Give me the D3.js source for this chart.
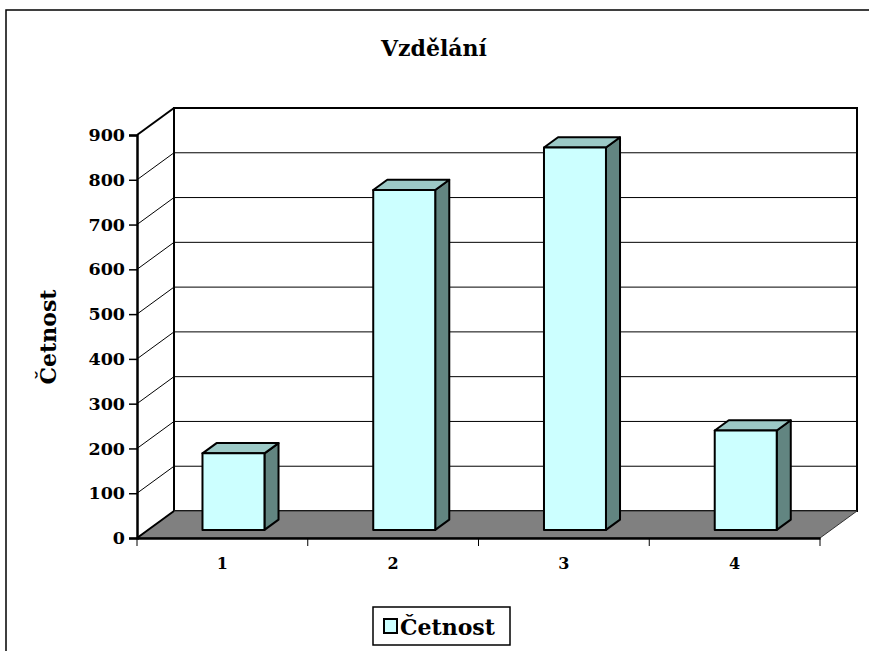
<!DOCTYPE html>
<html>
<head>
<meta charset="utf-8">
<script src="https://cdn.jsdelivr.net/npm/d3@7"></script>
<style>
  body { margin: 0; background: #fff; }
  text { font-family: "DejaVu Serif", "Liberation Serif", serif; font-weight: bold; }
</style>
</head>
<body>
<div id="chart"></div>
<script>
// Data
const CATEGORIES = ["1", "2", "3", "4"];
const VALUES = [171, 759, 854, 222];
const Y_TICKS = [0, 100, 200, 300, 400, 500, 600, 700, 800, 900];
const SERIES_NAME = "Četnost";

// Frame and 3d layout
const FRAME_WIDTH = 869;
const FRAME_HEIGHT = 651;
const DEPTH = {dx: 37, dy: -27};          // full depth of the plot box
const BAR_FRONT = 0.3, BAR_BACK = 0.68;   // bar position within depth
const BAR_FRAC = 0.363;                   // bar width / category width

const svg = d3.select("#chart")
  .append("svg")
    .attr("width", FRAME_WIDTH)
    .attr("height", FRAME_HEIGHT);

// outer chart border
svg.append("rect")
  .attr("x", 6).attr("y", 10)
  .attr("width", 900).attr("height", 700)
  .attr("fill", "#fff").attr("stroke", "#000").attr("stroke-width", 1.5);

// scales (front plane)
const X_SCALE = d3.scaleBand()
  .domain(CATEGORIES)
  .range([137, 820])
  .padding(0);

const Y_SCALE = d3.scaleLinear()
  .domain([0, 900])
  .range([538, 135]);

const x0 = X_SCALE.range()[0], x1 = X_SCALE.range()[1];
const yTop = Y_SCALE(900), yBot = Y_SCALE(0);

const pt = (x, y, f) => [x + DEPTH.dx * f, y + DEPTH.dy * f];
const poly = (pts) => "M" + pts.map(p => p.join(",")).join("L") + "Z";

// left wall
svg.append("path")
  .attr("d", poly([pt(x0, yBot, 0), pt(x0, yBot, 1), pt(x0, yTop, 1), pt(x0, yTop, 0)]))
  .attr("fill", "#fff");

// back wall
svg.append("rect")
  .attr("x", x0 + DEPTH.dx).attr("y", yTop + DEPTH.dy)
  .attr("width", x1 - x0).attr("height", yBot - yTop)
  .attr("fill", "#fff").attr("stroke", "#000").attr("stroke-width", 2);

// gridlines on back and left walls
const grid = svg.append("g");
Y_TICKS.filter(t => t > 0 && t < 900).forEach(t => {
  const [bx, by] = pt(x0, Y_SCALE(t), 1);
  grid.append("line")
    .attr("x1", bx).attr("y1", by).attr("x2", bx + (x1 - x0)).attr("y2", by)
    .attr("stroke", "#000").attr("stroke-width", 1);
  grid.append("line")
    .attr("x1", x0).attr("y1", Y_SCALE(t)).attr("x2", bx).attr("y2", by)
    .attr("stroke", "#000").attr("stroke-width", 1);
});

// floor
svg.append("path")
  .attr("d", poly([pt(x0, yBot, 0), pt(x1, yBot, 0), pt(x1, yBot, 1), pt(x0, yBot, 1)]))
  .attr("fill", "#808080").attr("stroke", "#333").attr("stroke-width", 1);

// left wall outline (top diagonal and left-floor diagonal)
svg.append("line")
  .attr("x1", x0).attr("y1", yTop).attr("x2", x0 + DEPTH.dx).attr("y2", yTop + DEPTH.dy)
  .attr("stroke", "#000").attr("stroke-width", 2);
svg.append("line")
  .attr("x1", x0).attr("y1", yBot).attr("x2", x0 + DEPTH.dx).attr("y2", yBot + DEPTH.dy)
  .attr("stroke", "#000").attr("stroke-width", 2);

// bars
const bars = svg.append("g");
CATEGORIES.forEach((c, i) => {
  const bw = X_SCALE.bandwidth() * BAR_FRAC;
  const cx = X_SCALE(c) + X_SCALE.bandwidth() / 2;
  const xl = cx - bw / 2, xr = cx + bw / 2;
  const yt = Y_SCALE(VALUES[i]);
  const F = BAR_FRONT, B = BAR_BACK;
  // side
  bars.append("path")
    .attr("d", poly([pt(xr, yBot, F), pt(xr, yBot, B), pt(xr, yt, B), pt(xr, yt, F)]))
    .attr("fill", "#628581").attr("stroke", "#000").attr("stroke-width", 2)
    .attr("stroke-linejoin", "round");
  // top
  bars.append("path")
    .attr("d", poly([pt(xl, yt, F), pt(xr, yt, F), pt(xr, yt, B), pt(xl, yt, B)]))
    .attr("fill", "#9cc9c6").attr("stroke", "#000").attr("stroke-width", 2)
    .attr("stroke-linejoin", "round");
  // front
  bars.append("path")
    .attr("d", poly([pt(xl, yBot, F), pt(xr, yBot, F), pt(xr, yt, F), pt(xl, yt, F)]))
    .attr("fill", "#ccffff").attr("stroke", "#000").attr("stroke-width", 2)
    .attr("stroke-linejoin", "round");
});

// y axis
const yAxis = svg.append("g")
  .attr("transform", "translate(" + x0 + ",0)")
  .call(d3.axisLeft(Y_SCALE).tickValues(Y_TICKS).tickSize(8).tickPadding(4));
yAxis.select(".domain").attr("stroke-width", 2.5);
yAxis.selectAll(".tick line").attr("stroke-width", 1.5);
yAxis.selectAll("text")
  .attr("font-size", "17.5px").attr("font-family", "DejaVu Serif").attr("font-weight", "bold")
  .attr("fill", "#000");

// x axis (front floor edge)
const xAxis = svg.append("g")
  .attr("transform", "translate(0," + yBot + ")")
  .call(d3.axisBottom(X_SCALE).tickSize(0).tickPadding(20));
xAxis.select(".domain").attr("stroke-width", 2.5);
xAxis.selectAll("text")
  .attr("font-size", "16px").attr("font-family", "DejaVu Serif").attr("font-weight", "bold")
  .attr("fill", "#000");
// boundary ticks between categories
const bounds = CATEGORIES.map(c => X_SCALE(c)).concat([x1]);
xAxis.selectAll(".bound")
  .data(bounds)
  .enter()
  .append("line")
    .attr("x1", d => d).attr("x2", d => d)
    .attr("y1", 0).attr("y2", 8)
    .attr("stroke", "#000").attr("stroke-width", 1);

// title
svg.append("text")
  .attr("x", 434).attr("y", 56)
  .attr("text-anchor", "middle")
  .attr("font-size", "22px")
  .text("Vzdělání");

// y axis title
svg.append("text")
  .attr("transform", "translate(56,337) rotate(-90)")
  .attr("text-anchor", "middle")
  .attr("font-size", "22px")
  .text(SERIES_NAME);

// legend
const legend = svg.append("g");
legend.append("rect")
  .attr("x", 373).attr("y", 607).attr("width", 137).attr("height", 38)
  .attr("fill", "#fff").attr("stroke", "#000").attr("stroke-width", 1.5);
legend.append("rect")
  .attr("x", 384).attr("y", 619).attr("width", 13).attr("height", 14)
  .attr("fill", "#ccffff").attr("stroke", "#000").attr("stroke-width", 2);
legend.append("text")
  .attr("x", 400).attr("y", 635)
  .attr("font-size", "22px")
  .text(SERIES_NAME);
</script>
</body>
</html>
